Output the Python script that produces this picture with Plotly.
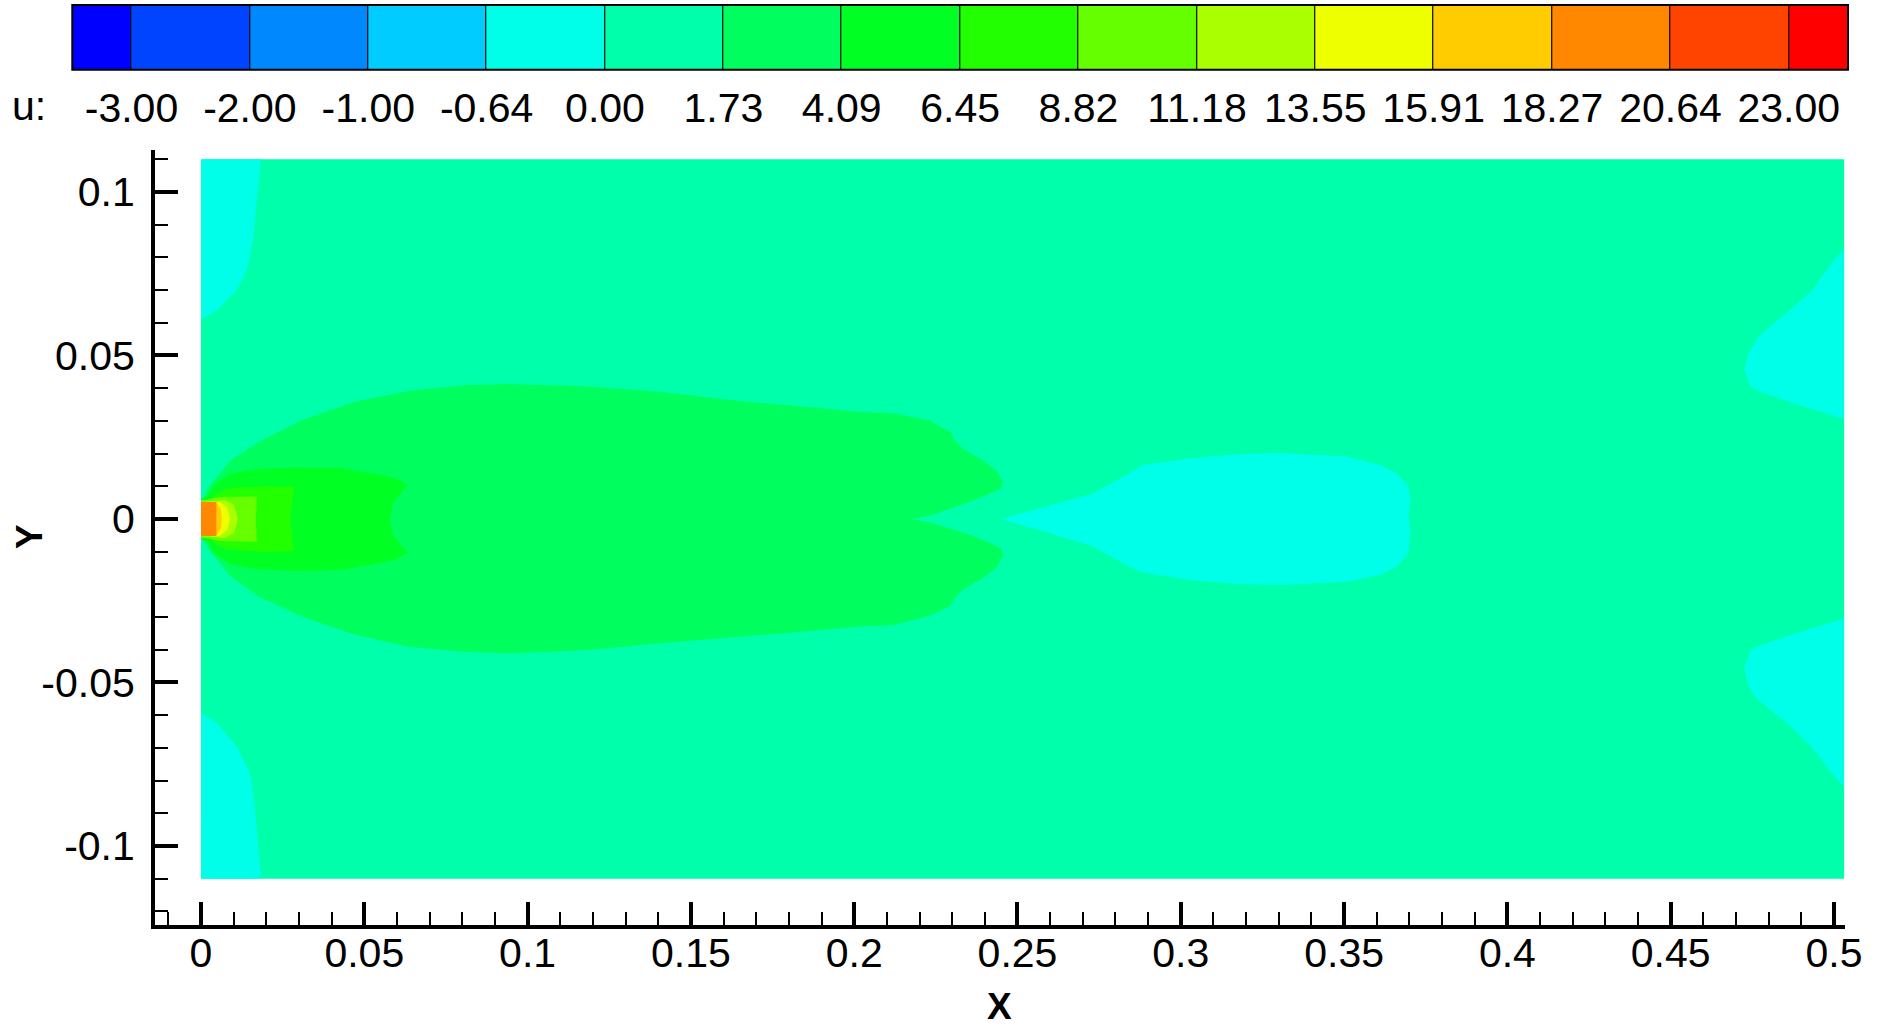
import numpy as np
import plotly.graph_objects as go

# ---------------- data ----------------
levels = [-3.00, -2.00, -1.00, -0.64, 0.00, 1.73, 4.09, 6.45, 8.82, 11.18,
          13.55, 15.91, 18.27, 20.64, 23.00]
level_labels = ["-3.00", "-2.00", "-1.00", "-0.64", "0.00", "1.73", "4.09", "6.45",
                "8.82", "11.18", "13.55", "15.91", "18.27", "20.64", "23.00"]
band_colors = ["#0000FF", "#0044FF", "#0088FF", "#00CCFF", "#00FFE8", "#00FFAA",
               "#00FF5E", "#00FF22", "#22FF00", "#66FF00", "#AAFF00", "#EEFF00",
               "#FFCC00", "#FF8800", "#FF4400", "#FF0000"]

x_ticks = [0, 0.05, 0.1, 0.15, 0.2, 0.25, 0.3, 0.35, 0.4, 0.45, 0.5]
x_tick_text = ["0", "0.05", "0.1", "0.15", "0.2", "0.25", "0.3", "0.35", "0.4", "0.45", "0.5"]
y_ticks = [-0.1, -0.05, 0, 0.05, 0.1]
y_tick_text = ["-0.1", "-0.05", "0", "0.05", "0.1"]

# domain (u ~ 0.9, band 0.00..1.73)
domain_x = [0.0, 0.5031, 0.5031, 0.0]
domain_y = [-0.11, -0.11, 0.11, 0.11]
domain_u = 0.9

# reverse-flow pockets (u ~ -0.3)
cyan_tl_x = [0.0, 0.0184, 0.0171, 0.0159, 0.0141, 0.0110, 0.0049, 0.0]
cyan_tl_y = [0.11, 0.11, 0.0976, 0.0852, 0.0761, 0.0700, 0.0639, 0.0609]
cyan_bl_x = [0.0, 0.0049, 0.0110, 0.0150, 0.0165, 0.0184, 0.0]
cyan_bl_y = [-0.0594, -0.0624, -0.0697, -0.0777, -0.0881, -0.11, -0.11]
cyan_tr_x = [0.5031, 0.4998, 0.4932, 0.4855, 0.4773, 0.4738, 0.4725, 0.4743,
             0.4763, 0.4865, 0.4947, 0.5031]
cyan_tr_y = [0.0826, 0.0790, 0.0698, 0.0631, 0.0563, 0.0508, 0.0455, 0.0407,
             0.0393, 0.0357, 0.0332, 0.0306]
cyan_br_x = [0.5031, 0.4835, 0.4748, 0.4725, 0.4735, 0.4758, 0.4855, 0.4932,
             0.4998, 0.5031]
cyan_br_y = [-0.0304, -0.0365, -0.0396, -0.0451, -0.0502, -0.0545, -0.0624,
             -0.0697, -0.0783, -0.0819]
bubble_x = [0.2449, 0.2602, 0.2733, 0.2842, 0.2881, 0.3028, 0.3181, 0.3304,
            0.3508, 0.3610, 0.3661, 0.3697, 0.3704, 0.3697, 0.3704, 0.3697,
            0.3661, 0.3610, 0.3508, 0.3304, 0.3181, 0.3028, 0.2881, 0.2842,
            0.2733, 0.2602]
bubble_y = [0.0, 0.0043, 0.0079, 0.0140, 0.0165, 0.0186, 0.0199, 0.0202,
            0.0191, 0.0165, 0.0140, 0.0099, 0.0058, 0.0007, -0.0040, -0.0105,
            -0.0146, -0.0171, -0.0192, -0.0202, -0.0199, -0.0187, -0.0163,
            -0.0146, -0.0085, -0.0044]
cyan_u = -0.3

# jet envelope (u ~ 2.9)
jet_x = [0.0, 0.0025, 0.0091, 0.0178, 0.0310, 0.0474, 0.0638, 0.0802, 0.0944,
         0.1185, 0.1403, 0.1650, 0.1814, 0.2011, 0.2121, 0.2230, 0.2295, 0.2306,
         0.2334, 0.2394, 0.2438, 0.2456, 0.2449, 0.2405, 0.2350, 0.2230, 0.2175,
         0.2230, 0.2350, 0.2405, 0.2449, 0.2456, 0.2438, 0.2394, 0.2334, 0.2306,
         0.2295, 0.2230, 0.2121, 0.2011, 0.1814, 0.1650, 0.1403, 0.1185, 0.0944,
         0.0802, 0.0638, 0.0474, 0.0310, 0.0178, 0.0091, 0.0025, 0.0]
jet_y = [0.0050, 0.0099, 0.0180, 0.0236, 0.0303, 0.0359, 0.0392, 0.0409, 0.0413,
         0.0405, 0.0389, 0.0361, 0.0346, 0.0328, 0.0323, 0.0301, 0.0267, 0.0242,
         0.0214, 0.0180, 0.0145, 0.0114, 0.0094, 0.0073, 0.0051, 0.0010, 0.0,
         -0.0010, -0.0047, -0.0069, -0.0090, -0.0110, -0.0146, -0.0181, -0.0214,
         -0.0243, -0.0265, -0.0296, -0.0324, -0.0329, -0.0347, -0.0360, -0.0380,
         -0.0401, -0.0411, -0.0406, -0.0391, -0.0355, -0.0299, -0.0238, -0.0176,
         -0.0095, -0.0050]
jet_u = 2.9

# potential core bands
core_x = [0.0018, 0.0043, 0.0089, 0.0171, 0.0282, 0.0426, 0.0533, 0.0594, 0.0632,
          0.0588, 0.0579, 0.0588, 0.0632, 0.0594, 0.0533, 0.0426, 0.0282, 0.0171,
          0.0089, 0.0043, 0.0018, 0.0, 0.0]
core_y = [0.0070, 0.0107, 0.0138, 0.0153, 0.0157, 0.0156, 0.0138, 0.0125, 0.0104,
          0.0049, 0.0, -0.0049, -0.0104, -0.0125, -0.0138, -0.0156, -0.0159,
          -0.0153, -0.0138, -0.0107, -0.0070, -0.0060, 0.0060]
core_u = 5.3

inner_x = [0.0, 0.0024, 0.0043, 0.0073, 0.0135, 0.0211, 0.0285, 0.0279, 0.0273,
           0.0279, 0.0285, 0.0211, 0.0135, 0.0073, 0.0043, 0.0024, 0.0]
inner_y = [0.0043, 0.0043, 0.0076, 0.0092, 0.0098, 0.0101, 0.0098, 0.0043, 0.0,
           -0.0043, -0.0098, -0.0101, -0.0098, -0.0092, -0.0076, -0.0043, -0.0043]
inner_u = 7.6

b9_x = [0.0, 0.0012, 0.0058, 0.0171, 0.0168, 0.0171, 0.0058, 0.0012, 0.0]
b9_y = [0.0058, 0.0058, 0.0067, 0.0069, 0.0, -0.0070, -0.0067, -0.0058, -0.0058]
b9_u = 10.0

b10_x = [0.0, 0.0073, 0.0101, 0.0113, 0.0101, 0.0073, 0.0]
b10_y = [0.0052, 0.0058, 0.0043, 0.0, -0.0043, -0.0058, -0.0052]
b10_u = 12.4

b11_x = [0.0, 0.0058, 0.0080, 0.0089, 0.0080, 0.0058, 0.0]
b11_y = [0.0049, 0.0052, 0.0034, 0.0, -0.0034, -0.0052, -0.0049]
b11_u = 14.7

b12_x = [0.0, 0.0049, 0.0061, 0.0064, 0.0061, 0.0049, 0.0]
b12_y = [0.0049, 0.0049, 0.0028, 0.0, -0.0028, -0.0049, -0.0049]
b12_u = 17.1

nozzle_x = [0.0, 0.0047, 0.0047, 0.0]
nozzle_y = [0.0052, 0.0052, -0.0052, -0.0052]
nozzle_u = 19.5

regions = [
    (domain_x, domain_y, domain_u),
    (cyan_tl_x, cyan_tl_y, cyan_u),
    (cyan_bl_x, cyan_bl_y, cyan_u),
    (cyan_tr_x, cyan_tr_y, cyan_u),
    (cyan_br_x, cyan_br_y, cyan_u),
    (bubble_x, bubble_y, cyan_u),
    (jet_x, jet_y, jet_u),
    (core_x, core_y, core_u),
    (inner_x, inner_y, inner_u),
    (b9_x, b9_y, b9_u),
    (b10_x, b10_y, b10_u),
    (b11_x, b11_y, b11_u),
    (b12_x, b12_y, b12_u),
    (nozzle_x, nozzle_y, nozzle_u),
]


def band_of(u):
    return int(np.searchsorted(levels, u, side="right"))


# ---------------- figure ----------------
W, H = 1885, 1025          # design size (window)
W_LAYOUT = 1902            # compensates the horizontal shrink seen in the render
FONT = "Liberation Sans, Arial, Helvetica, sans-serif"
fig = go.Figure()

for xs, ys, u in regions:
    fig.add_trace(go.Scatter(
        x=xs, y=ys, mode="lines", fill="toself",
        fillcolor=band_colors[band_of(u)], line=dict(width=0),
        hoverinfo="skip", showlegend=False, xaxis="x", yaxis="y"))

# colour legend as bars on a separate axis (level index space)
n_lv = len(levels)
left_edges = [-0.5] + list(range(0, n_lv))
right_edges = list(range(0, n_lv)) + [n_lv - 0.5]
centers = [(a + b) / 2 for a, b in zip(left_edges, right_edges)]
widths = [b - a for a, b in zip(left_edges, right_edges)]
fig.add_trace(go.Bar(
    x=centers, y=[1] * len(centers), width=widths, base=0,
    marker=dict(color=band_colors, line=dict(color="black", width=1)),
    hoverinfo="skip", showlegend=False, xaxis="x2", yaxis="y2"))


def px_x(p):
    return p / W


def px_y(p):
    return (H - p) / H


axis_common = dict(showgrid=False, zeroline=False, showline=True, linecolor="black",
                   linewidth=4, ticks="inside", ticklen=23, tickwidth=4,
                   tickcolor="black", tickfont=dict(family=FONT, size=41, color="black"),
                   minor=dict(ticks="inside", ticklen=13, tickwidth=1.5,
                              tickcolor="black", dtick=0.01, showgrid=False))

fig.update_layout(
    width=W_LAYOUT, height=H, autosize=False, margin=dict(l=0, r=0, t=0, b=0),
    paper_bgcolor="white", plot_bgcolor="white",
    font=dict(family=FONT, color="black"),
    xaxis=dict(domain=[px_x(155), px_x(1845)], range=[-0.01408, 0.50337],
               tickvals=x_ticks, ticktext=x_tick_text, anchor="y",
               ticklabelstandoff=-11, **axis_common),
    yaxis=dict(domain=[px_y(925), px_y(150)], range=[-0.12416, 0.11284],
               tickvals=y_ticks, ticktext=y_tick_text, anchor="x",
               ticklabelstandoff=8, **axis_common),
    xaxis2=dict(domain=[px_x(72.3), px_x(1848)], range=[-0.5, n_lv - 0.5],
                anchor="y2", tickvals=list(range(n_lv)), ticktext=level_labels,
                ticks="", showline=False, showgrid=False, zeroline=False,
                tickfont=dict(family=FONT, size=41, color="black"),
                ticklabelstandoff=10, fixedrange=True),
    yaxis2=dict(domain=[px_y(69.7), px_y(5)], range=[0, 1], visible=False,
                anchor="x2", fixedrange=True),
    bargap=0,
    shapes=[dict(type="rect", xref="x2 domain", yref="y2 domain", x0=0, x1=1,
                 y0=0, y1=1, line=dict(color="black", width=2), layer="above")],
    annotations=[
        dict(text="u:", x=px_x(10), y=px_y(106), xref="paper", yref="paper",
             xanchor="left", yanchor="middle", showarrow=False,
             font=dict(family=FONT, size=41, color="black")),
        dict(text="<b>X</b>", x=px_x(999), y=px_y(1006), xref="paper", yref="paper",
             xanchor="center", yanchor="middle", showarrow=False, height=32,
             font=dict(family=FONT, size=37, color="black")),
        dict(text="<b>Y</b>", x=px_x(29), y=px_y(537), xref="paper", yref="paper",
             xanchor="center", yanchor="middle", showarrow=False, textangle=-90,
             font=dict(family=FONT, size=37, color="black")),
    ],
)

fig.write_html(
    "out.html", config={"displayModeBar": False, "responsive": False},
    post_script=("document.body.style.margin='0';"
                 "document.body.style.overflow='hidden';"))
